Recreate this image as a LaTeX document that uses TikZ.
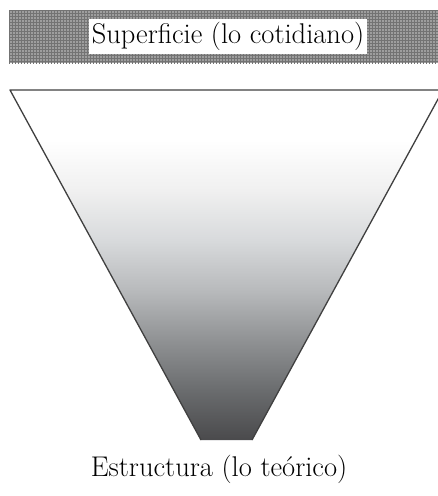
\documentclass[tikz,border=0pt]{standalone}
\usepackage{fontspec}
\usetikzlibrary{patterns}
\definecolor{s1}{RGB}{74,74,76}
\definecolor{s2}{RGB}{106,108,110}
\definecolor{s3}{RGB}{144,146,148}
\definecolor{s4}{RGB}{184,186,188}
\definecolor{s5}{RGB}{216,218,220}
\definecolor{s6}{RGB}{240,240,240}
\pgfdeclareverticalshading{funnel}{100bp}{
  color(0bp)=(s1);
  color(25bp)=(s1);
  color(32.1bp)=(s2);
  color(39.3bp)=(s3);
  color(46.4bp)=(s4);
  color(53.6bp)=(s5);
  color(60.7bp)=(s6);
  color(67.9bp)=(white);
  color(100bp)=(white)}
\tikzset{
  banner/.style={fill=black!38, draw=none},
  labelbox/.style={fill=white, inner sep=3pt, font=\fontsize{28.5}{32}\selectfont},
  caption/.style={font=\fontsize{28.5}{32}\selectfont},
}
\begin{document}
\begin{tikzpicture}[x=1pt,y=-1pt]
\useasboundingbox (0,0) rectangle (438,496);
\fill[banner] (9,10) rectangle (438,63);
\fill[pattern=grid, pattern color=black!55] (9,10) rectangle (438,63);
\node[labelbox] (top) at (228,36.5) {Superficie (lo cotidiano)};
\coordinate (tl) at (10,90);
\coordinate (tr) at (443,90);
\coordinate (br) at (252,440);
\coordinate (bl) at (201,440);
\shade[shading=funnel] (tl) -- (tr) -- (br) -- (bl) -- cycle;
\draw[black!75, line width=1.3pt, line join=round] (bl) -- (tl) -- (tr) -- (br);
\node[caption] (bottom) at (219,469) {Estructura (lo teórico)};
\end{tikzpicture}
\end{document}
